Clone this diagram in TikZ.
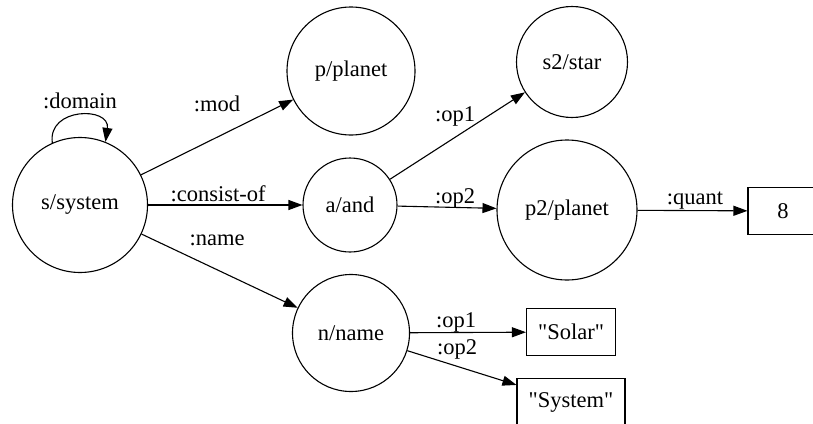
\documentclass[tikz,border=0pt]{standalone}
\usepackage{fontspec}
\setmainfont{Liberation Serif}
\usetikzlibrary{arrows.meta}

\begin{document}
\begin{tikzpicture}
  [x=1pt,y=-1pt,line width=1.1pt,
   every node/.style={font=\fontsize{22.5}{27}\selectfont},
   concept/.style={circle,draw,inner sep=0pt},
   constbox/.style={rectangle,draw,inner sep=0pt,minimum height=47pt},
   lbl/.style={inner sep=0pt},
   >={Triangle[length=14pt,width=10pt]}]
  \useasboundingbox (0,0) rectangle (813,423);
  \clip (0,0) rectangle (813,423);

  \node[concept,minimum size=135pt] (s)  at (80,205)  {s/system};
  \node[concept,minimum size=128pt] (p)  at (351,71)  {p/planet};
  \node[concept,minimum size=94pt]  (a)  at (350,205) {a/and};
  \node[concept,minimum size=111pt] (s2) at (572,62)  {s2/star};
  \node[concept,minimum size=140pt] (p2) at (567,210) {p2/planet};
  \node[concept,minimum size=117pt] (n)  at (351,333) {n/name};
  \node[constbox,minimum width=70pt]  (q)  at (783,211) {8};
  \node[constbox,minimum width=89pt]  (c1) at (571,332) {\textquotedbl Solar\textquotedbl};
  \node[constbox,minimum width=108pt] (c2) at (571,402) {\textquotedbl System\textquotedbl};

  \foreach \from/\to in {s/p, s/a, s/n, a/s2, a/p2, p2/q, n/c1, n/c2}
    \draw[->] (\from) -- (\to);

  \draw[->] (s.114) .. controls +(-98:36) and +(-82:36) .. (s.68);

  \foreach \name/\x/\y/\txt in {ldomain/80/101/{:domain}, lmod/217/104/{:mod},
      lconsist/218/194/{:consist-of}, lname/217/240/{:name},
      lopa/455/116/{:op1}, lopb/455/198/{:op2}, lquant/695/201/{:quant},
      lopc/456/322/{:op1}, lopd/457/349/{:op2}}
    \node[lbl] (\name) at (\x,\y) {\txt};

\end{tikzpicture}
\end{document}
